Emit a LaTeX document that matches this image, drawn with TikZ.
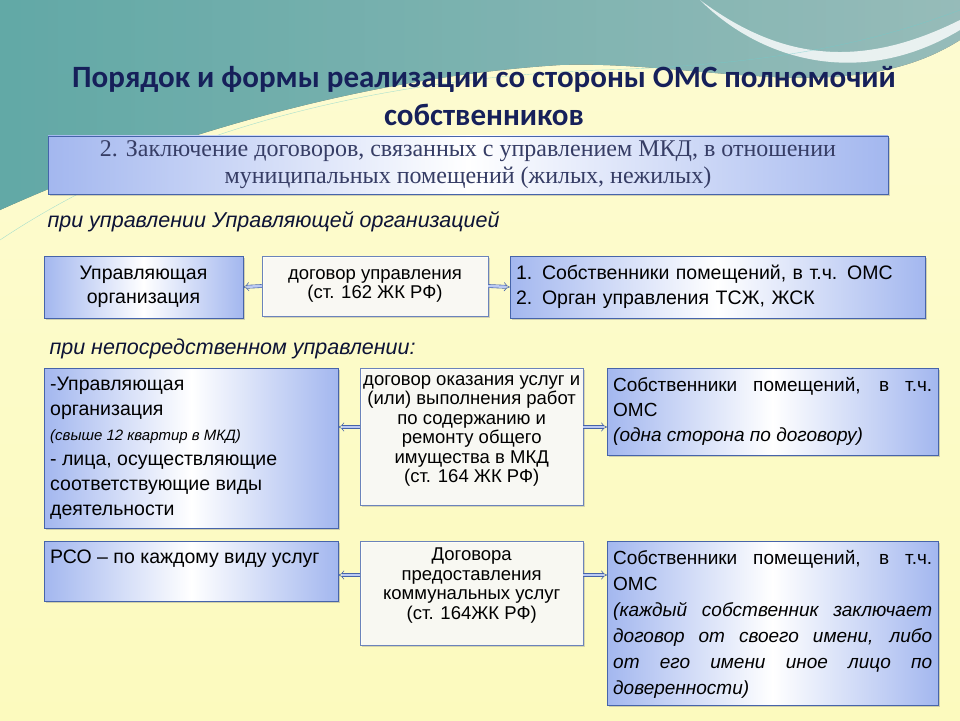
\documentclass[tikz,border=0pt]{standalone}
\usepackage{fontspec}
\setmainfont{Liberation Sans}
\newfontfamily\titlefont{Carlito}
\newfontfamily\serifhead{Liberation Serif}
\usetikzlibrary{arrows.meta, shadows}
\definecolor{navy}{RGB}{22,32,90}
\definecolor{edgeblue}{RGB}{70,100,170}
\definecolor{boxblue}{RGB}{140,165,235}
\definecolor{paleyellow}{RGB}{252,250,190}
\definecolor{teal1}{RGB}{110,205,205}
\definecolor{teal2}{RGB}{180,230,230}
\newcommand{\topfill}[3]{\parbox[c][#1][t]{#2}{\vspace{3pt}#3}}
\tikzset{
  bluebox/.style={draw=edgeblue, left color=boxblue!80, right color=boxblue!80, middle color=white,
    drop shadow={shadow xshift=2pt, shadow yshift=-2pt, opacity=.35}, inner sep=5pt},
  palebox/.style={draw=edgeblue!80, fill=white, fill opacity=.85, text opacity=1,
    drop shadow={shadow xshift=2pt, shadow yshift=-2pt, opacity=.3}, align=center, inner sep=3pt},
  linkarrow/.style={draw=edgeblue, double=boxblue!60, double distance=2.5pt, -{Implies}, line width=.6pt},
  bodytext/.style={font=\fontsize{19.5}{24.5}\selectfont},
  midtext/.style={font=\fontsize{18.5}{19.5}\selectfont},
  modetext/.style={font=\itshape\fontsize{21.5}{24}\selectfont, text=navy!60!black, anchor=west}
}
\begin{document}
\begin{tikzpicture}[x=1pt, y=-1pt]
\useasboundingbox (0,0) rectangle (960,720);
% background
\fill[top color=paleyellow!70!white, bottom color=paleyellow] (0,0) rectangle (960,720);
\fill[left color=teal1, right color=teal2, opacity=.75] (0,0) -- (960,0) -- (960,40)
  .. controls (850,110) and (700,60) .. (560,65) .. controls (400,75) and (200,120) .. (0,210) -- cycle;
\fill[white, opacity=.8] (700,0) .. controls (780,60) and (860,70) .. (960,20) -- (960,30)
  .. controls (860,90) and (760,60) .. (700,0) -- cycle;
\draw[teal1, opacity=.6] (0,240) .. controls (150,140) and (350,80) .. (600,70) .. controls (780,65) and (880,40) .. (960,10);
% title
\node[font=\titlefont\bfseries\fontsize{31}{38}\selectfont, text=navy, align=center] (title) at (484,96)
  {Порядок и формы реализации со стороны ОМС полномочий\\собственников};
\node[bluebox, minimum width=840pt, minimum height=58pt, align=center, text=navy!70!gray,
  font=\serifhead\fontsize{24}{27}\selectfont] (head) at (468,165)
  {2. Заключение договоров, связанных с управлением МКД, в отношении\\муниципальных помещений (жилых, нежилых)};
% first mode
\node[modetext] (mode1) at (44,222) {при управлении Управляющей организацией};
\node[bluebox, bodytext, minimum width=199pt, minimum height=62pt, align=center] (uo) at (143.5,287)
  {Управляющая\\организация};
\node[palebox, midtext, minimum width=226pt, minimum height=60pt] (contract1) at (375,286)
  {договор управления\\(ст. 162 ЖК РФ)};
\node[bluebox, bodytext, minimum width=415pt, minimum height=62pt, align=left, text width=403pt] (owners1) at (717.5,287)
  {1. Собственники помещений, в т.ч. ОМС\\2. Орган управления ТСЖ, ЖСК};
\draw[linkarrow] (contract1.west) -- (uo.east);
\draw[linkarrow] (contract1.east) -- (owners1.west);
% second mode
\node[modetext] (mode2) at (46,349) {при непосредственном управлении:};
\node[bluebox, anchor=north west, minimum width=294pt, minimum height=160pt] (uo2) at (44,368)
  {\topfill{148pt}{282pt}{\raggedright\fontsize{19.5}{25}\selectfont -Управляющая\\организация\\
   {\fontsize{15}{25}\selectfont\itshape (свыше 12 квартир в МКД)}\\
   - лица, осуществляющие соответствующие виды деятельности\par}};
\node[palebox, midtext, minimum width=223pt, minimum height=137pt, anchor=north west] (contract2) at (360,368)
  {\topfill{129pt}{217pt}{\centering договор оказания услуг и (или) выполнения работ по содержанию и ремонту общего имущества в МКД\\(ст. 164 ЖК РФ)\par}};
\node[bluebox, anchor=north west, minimum width=331pt, minimum height=87pt] (owners2) at (607,368)
  {\topfill{75pt}{319pt}{\fontsize{19}{25}\selectfont Собственники помещений, в т.ч. ОМС\\{\itshape(одна сторона по договору)}\par}};
\draw[linkarrow] (contract2.west |- 0,427) -- (uo2.east |- 0,427);
\draw[linkarrow] (contract2.east |- 0,427) -- (owners2.west |- 0,427);
% utilities
\node[bluebox, anchor=north west, minimum width=294pt, minimum height=60pt] (rso) at (44,541)
  {\topfill{48pt}{282pt}{\raggedright\fontsize{19.5}{25}\selectfont РСО – по каждому виду услуг\par}};
\node[palebox, midtext, minimum width=223pt, minimum height=104pt, anchor=north west] (contract3) at (360,541)
  {\topfill{96pt}{200pt}{\centering Договора предоставления коммунальных услуг\\(ст. 164ЖК РФ)\par}};
\node[bluebox, anchor=north west, minimum width=331pt, minimum height=164pt] (owners3) at (607,541)
  {\topfill{152pt}{319pt}{\fontsize{19}{26}\selectfont Собственники помещений, в т.ч. ОМС\\{\itshape(каждый собственник заключает договор от своего имени, либо от его имени иное лицо по доверенности)}\par}};
\draw[linkarrow] (contract3.west |- 0,575) -- (rso.east |- 0,575);
\draw[linkarrow] (contract3.east |- 0,575) -- (owners3.west |- 0,575);
\end{tikzpicture}
\end{document}
